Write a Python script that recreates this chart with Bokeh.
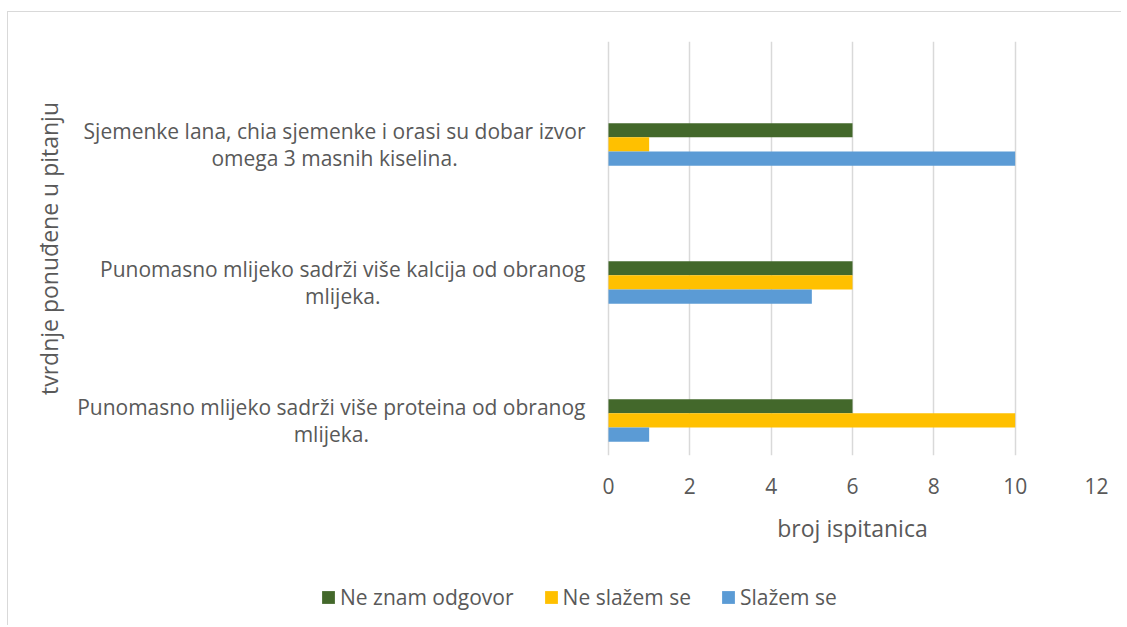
from bokeh.plotting import figure
from bokeh.layouts import column
from bokeh.models import FixedTicker, Legend, LegendItem, ColumnDataSource
from bokeh.core.properties import value
from bokeh.embed import file_html
from bokeh.resources import INLINE

# category texts (wrapped as in the original), bottom to top
categories = [
    "Punomasno mlijeko sadrži više proteina od obranog\nmlijeka.",
    "Punomasno mlijeko sadrži više kalcija od obranog\nmlijeka.",
    "Sjemenke lana, chia sjemenke i orasi su dobar izvor\nomega 3 masnih kiselina.",
]
series_names = ["Ne znam odgovor", "Ne slažem se", "Slažem se"]
ne_znam_odgovor = [6, 6, 6]
ne_slazem_se = [10, 6, 1]
slazem_se = [1, 5, 10]
x_ticks = [0, 2, 4, 6, 8, 10, 12]
x_max = 12
x_title = "broj ispitanica"
y_title = "tvrdnje ponuđene u pitanju"

colors = ["#43682b", "#ffc000", "#5b9bd5"]
FONT = "Open Sans"
TXT = "#595959"

# layout (pixels)
W = 1113
LEFT = 64            # space for the vertical axis title
LABEL_AREA = 536     # room for the category texts inside the frame, left of 0
BAR_AREA = 488       # 0 .. 12
px_per_unit = BAR_AREA / x_max
x_start = -LABEL_AREA / px_per_unit
P_BOTTOM = 52
Q_HEIGHT = 118
TITLE_Y = 98         # from the bottom of the lower strip

bar_h = 0.103
offsets = [bar_h, 0.0, -bar_h]

p = figure(
    frame_width=LABEL_AREA + BAR_AREA, frame_height=414,
    x_range=(x_start, x_max), y_range=(-0.254, 2.746),
    min_border_left=LEFT, min_border_right=W - LEFT - LABEL_AREA - BAR_AREA,
    min_border_top=29, min_border_bottom=P_BOTTOM,
    output_backend="svg", toolbar_location=None,
    background_fill_color="white", border_fill_color="white",
    outline_line_color=None,
)

for name, vals, col, off in zip(series_names, [ne_znam_odgovor, ne_slazem_se, slazem_se], colors, offsets):
    src = ColumnDataSource(dict(y=[i + off for i in range(len(categories))], v=vals))
    p.hbar(y="y", right="v", left=0, height=bar_h, source=src,
           fill_color=col, line_color=None)

# category texts: right end 23px left of the value axis, lines centred
cat_src = ColumnDataSource(dict(x=[0] * len(categories), y=list(range(len(categories))), t=categories))
p.text(x="x", y="y", text="t", source=cat_src, x_offset=-23,
       anchor="center_right", text_align="center", text_baseline="middle",
       text_font=value(FONT), text_font_size="21px", text_color=TXT, text_line_height=0.98)

# x axis (its title is drawn centred under 0..12 in the strip below)
p.xaxis.ticker = FixedTicker(ticks=x_ticks)
p.xaxis.axis_line_color = None
p.xaxis.major_tick_line_color = None
p.xaxis.minor_tick_line_color = None
p.xaxis.major_tick_out = 0
p.xaxis.major_tick_in = 0
p.xaxis.major_label_standoff = 22
p.xaxis.major_label_text_font = FONT
p.xaxis.major_label_text_font_size = "21px"
p.xaxis.major_label_text_color = TXT

# y axis: only its title
p.yaxis.ticker = FixedTicker(ticks=[])
p.yaxis.axis_label = y_title
p.yaxis.axis_line_color = None
p.yaxis.major_tick_line_color = None
p.yaxis.minor_tick_line_color = None
p.yaxis.major_tick_out = 0
p.yaxis.major_tick_in = 0
p.yaxis.major_label_standoff = 0
p.yaxis.axis_label_standoff = 8
p.yaxis.axis_label_text_font = FONT
p.yaxis.axis_label_text_font_size = "23px"
p.yaxis.axis_label_text_font_style = "normal"
p.yaxis.axis_label_text_color = TXT

p.xgrid.grid_line_color = "#d9d9d9"
p.xgrid.grid_line_width = 1.5
p.xgrid.ticker = FixedTicker(ticks=x_ticks)
p.ygrid.grid_line_color = None

# lower strip: x-axis title and legend (its frame lines up with the chart's frame)
q = figure(
    width=W, height=Q_HEIGHT, x_range=p.x_range, y_range=(0, Q_HEIGHT),
    min_border=0, x_axis_location=None, y_axis_location=None,
    output_backend="svg", toolbar_location=None,
    background_fill_color="white", border_fill_color="white",
    outline_line_color=None,
)
q.grid.visible = False

q.text(x=[x_max / 2], y=[TITLE_Y], text=[x_title],
       text_align="center", text_baseline="middle",
       text_font=value(FONT), text_font_size="23px", text_color=TXT)

# legend keys (one datum each, kept outside the strip's visible range)
keys = []
for col in colors:
    keys.append(q.hbar(y=[-10 * Q_HEIGHT], right=[1], left=0, height=1,
                       fill_color=col, line_color=None))

legend = Legend(
    items=[LegendItem(label=n, renderers=[r]) for n, r in zip(series_names, keys)],
    orientation="horizontal", location=(248, 14),
    border_line_color=None, background_fill_alpha=0,
    padding=0, margin=0, spacing=29, label_standoff=4,
    glyph_width=16, glyph_height=16,
    label_text_font=FONT, label_text_font_size="21px", label_text_color=TXT,
)
q.add_layout(legend)

layout = column(p, q, spacing=0, styles={
    "border-top": "1px solid #d9d9d9", "border-left": "1px solid #d9d9d9",
    "margin-left": "7px", "margin-top": "11px"})

open("out.html", "w").write(file_html(layout, INLINE))
